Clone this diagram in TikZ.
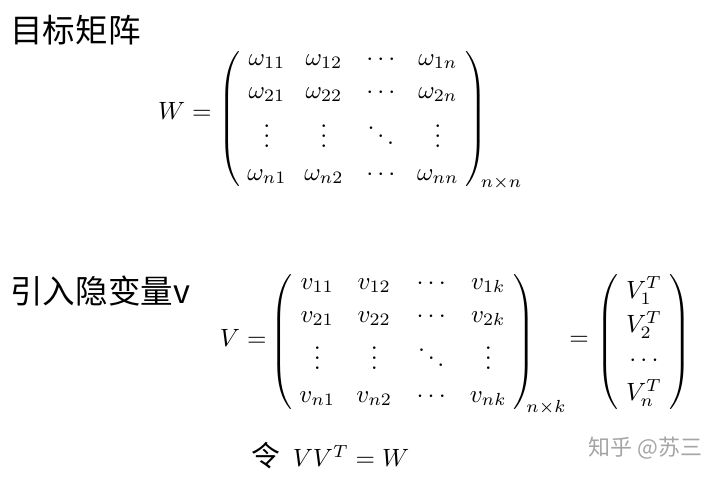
\documentclass[tikz,border=0pt]{standalone}
\usepackage{amsmath}
\usepackage{fontspec}
\newfontfamily\cjkfont{Noto Sans CJK SC}
\usetikzlibrary{matrix}
\definecolor{markgray}{RGB}{165,165,165}

\begin{document}
\begin{tikzpicture}[x=0.4pt, y=-0.4pt,
    heading/.style={anchor=west, inner sep=0pt, font=\fontsize{13}{15}\selectfont\cjkfont},
    entries/.style={matrix of math nodes, inner sep=1.5pt, nodes={anchor=base, inner sep=0pt},
        column sep={22.8pt,between origins}, row sep={13.2pt,between origins},
        left delimiter=(, right delimiter=)},
    dims/.style={inner sep=0pt}]
    % Page
    \useasboundingbox[fill=white] (0,0) rectangle (720,478);

    % Target matrix
    \node[heading] (title1) at (10,30) {目标矩阵};
    \node[anchor=base east, inner sep=0pt] (Wlhs) at (212,120) {$W =$};
    \matrix (W) [entries] at (353,119) {
        \omega_{11} & \omega_{12} & \cdots & \omega_{1n} \\
        \omega_{21} & \omega_{22} & \cdots & \omega_{2n} \\[6.4pt]
        \vdots & \vdots & \ddots & \vdots \\
        \omega_{n1} & \omega_{n2} & \cdots & \omega_{nn} \\
    };
    \node[dims] (Wdim) at (501,183) {$\scriptstyle n\times n$};

    % Hidden variable v
    \node[heading] (title2) at (10,291) {引入隐变量v};
    \node[anchor=base east, inner sep=0pt] (Vlhs) at (267,347) {$V =$};
    \matrix (V) [entries] at (403,342) {
        v_{11} & v_{12} & \cdots & v_{1k} \\
        v_{21} & v_{22} & \cdots & v_{2k} \\[5.6pt]
        \vdots & \vdots & \ddots & \vdots \\
        v_{n1} & v_{n2} & \cdots & v_{nk} \\
    };
    \node[dims] (Vdim) at (546,407) {$\scriptstyle n\times k$};
    \node[anchor=base, inner sep=0pt] (eq) at (579,346) {$=$};
    \matrix (Vcol) [entries, row sep={13.7pt,between origins}] at (644,342) {
        V_1^T \\
        V_2^T \\
        \cdots \\
        V_n^T \\
    };

    % Condition
    \node[anchor=base west, inner sep=0pt] (cond) at (251,467)
        {{\cjkfont\fontsize{11.5}{12}\selectfont 令}\hspace{5pt}$VV^T = W$};

    % Watermark
    \node[anchor=west, inner sep=0pt, text=markgray,
        font=\fontsize{8.8}{10}\selectfont\cjkfont] (mark) at (588,448) {知乎 @苏三};
\end{tikzpicture}
\end{document}
